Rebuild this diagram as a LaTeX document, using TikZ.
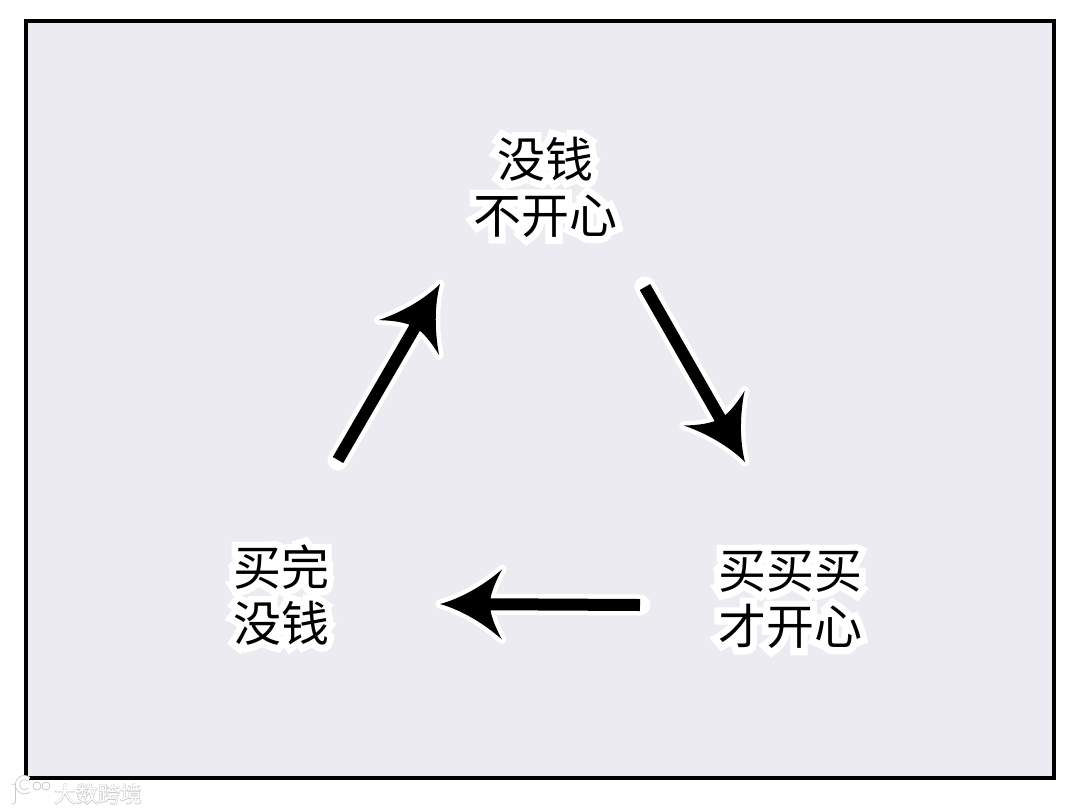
\documentclass[tikz,border=0pt]{standalone}
\usepackage{fontspec}
\newfontfamily\cjk{Noto Sans CJK SC}
\newfontfamily\cjkhalo[FakeBold=28]{Noto Sans CJK SC}
\newfontfamily\cjkwm[FakeBold=4]{Noto Sans CJK SC}
\usetikzlibrary{calc}
\definecolor{panel}{RGB}{235,235,241}
\definecolor{wmark}{RGB}{200,200,204}
\tikzset{
  lbl/.style={font=\cjk\fontsize{48}{56}\selectfont, align=center, text=black, inner sep=0pt},
  halolbl/.style={font=\cjkhalo\fontsize{48}{56}\selectfont, align=center, text=white, inner sep=0pt},
  shaft/.style={line width=12pt, black},
  shafthalo/.style={line width=21pt, white, line cap=round},
  logo/.style={draw=wmark, fill=white, line width=0.8pt},
  arrowhead/.pic={
    \filldraw[white, line width=9pt, line join=round]
      (0,0) .. controls (-22,-6) and (-45,-20) .. (-62,-35)
            .. controls (-55,-22) and (-50,-10) .. (-50,0)
            .. controls (-50,10) and (-55,22) .. (-62,35)
            .. controls (-45,20) and (-22,6) .. (0,0) -- cycle;
    \fill[black]
      (0,0) .. controls (-22,-6) and (-45,-20) .. (-62,-35)
            .. controls (-55,-22) and (-50,-10) .. (-50,0)
            .. controls (-50,10) and (-55,22) .. (-62,35)
            .. controls (-45,20) and (-22,6) .. (0,0) -- cycle;
  }
}
\newcommand{\halotext}[3]{%
  \node[halolbl] at #1 {#3};
  \node[lbl] (#2) at #1 {#3};}
\newcommand{\haloarrow}[2]{%
  \draw[shafthalo] (#1) -- ($(#2)!48pt!(#1)$);
  \path (#1) -- (#2) pic[pos=1, sloped, allow upside down] {arrowhead};
  \draw[shaft] (#1) -- ($(#2)!46pt!(#1)$);}
\begin{document}
\begin{tikzpicture}[x=1pt,y=-1pt]
\useasboundingbox (0,0) rectangle (1080,812);
\fill[white] (0,0) rectangle (1080,812);
\filldraw[fill=panel, draw=black, line width=4pt] (26,21) rectangle (1054,778);

\halotext{(545,187)}{top}{没钱\\不开心}
\halotext{(281,595)}{left}{买完\\没钱}
\halotext{(790,600)}{right}{买买买\\才开心}

\coordinate (u0) at (338,460);
\coordinate (u1) at (440,284);
\coordinate (d0) at (645,287);
\coordinate (d1) at (745,462);
\coordinate (l0) at (640,605);
\coordinate (l1) at (440,604);

\haloarrow{u0}{u1}
\haloarrow{d0}{d1}
\haloarrow{l0}{l1}

% watermark logo
\draw[wmark, line width=5pt, line cap=round] (13,786) -- (13,802);
\draw[white, line width=3.4pt, line cap=round] (13,786) -- (13,802);
\draw[wmark, line width=5pt] (29,790) arc[start angle=50, end angle=310, radius=7];
\draw[white, line width=3.4pt] (29,790) arc[start angle=50, end angle=310, radius=7];
\draw[logo] (37,786) circle[radius=4];
\draw[logo] (46,786) circle[radius=4];
\node[font=\cjkwm\fontsize{22}{22}\selectfont, text=wmark, inner sep=0pt] at (98,794) {大数跨境};
\node[font=\cjk\fontsize{22}{22}\selectfont, text=white, inner sep=0pt] (wm) at (98,794) {大数跨境};
\end{tikzpicture}
\end{document}
